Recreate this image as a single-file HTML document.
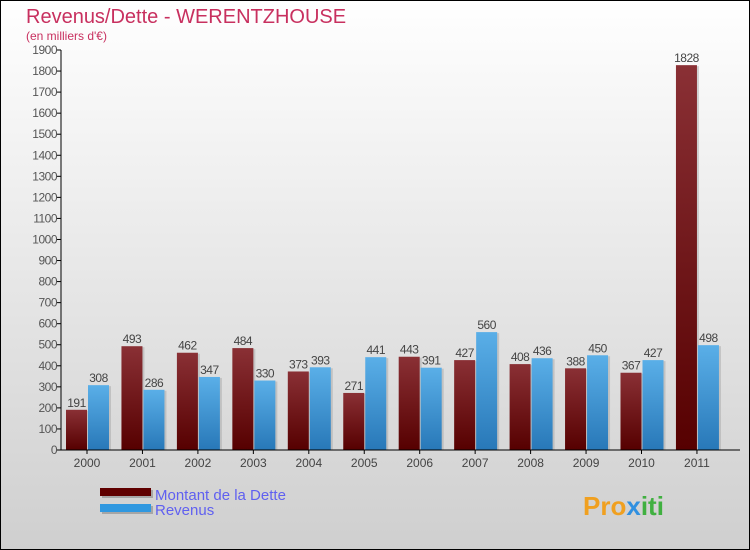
<!DOCTYPE html>
<html><head><meta charset="utf-8"><style>
body{margin:0}
svg{display:block;font-family:"Liberation Sans",sans-serif}
</style></head><body>
<svg id="c" width="750" height="550" xmlns="http://www.w3.org/2000/svg">
<defs>
<linearGradient id="bg" x1="0" y1="0" x2="0" y2="1"><stop offset="0" stop-color="#ffffff"/><stop offset="1" stop-color="#cfcfcf"/></linearGradient>
<linearGradient id="gd" x1="0" y1="0" x2="0" y2="1"><stop offset="0" stop-color="#8a3035"/><stop offset="1" stop-color="#560000"/></linearGradient>
<linearGradient id="gr" x1="0" y1="0" x2="0" y2="1"><stop offset="0" stop-color="#5aafe8"/><stop offset="1" stop-color="#2878b8"/></linearGradient>
</defs>
<rect x="0.5" y="0.5" width="749" height="549" fill="url(#bg)" stroke="#000"/>
<text x="26" y="23" font-size="20" fill="#c8305f">Revenus/Dette - WERENTZHOUSE</text>
<text x="26" y="40" font-size="12" fill="#c8305f">(en milliers d'€)</text>
<g id="plot"></g>
<g>
<rect x="102" y="490" width="51" height="8" fill="#888" opacity="0.6"/>
<rect x="100" y="488" width="51" height="8" fill="#600000"/>
<rect x="102" y="506" width="51" height="8" fill="#888" opacity="0.6"/>
<rect x="100" y="504" width="51" height="8" fill="#3098e0"/>
<text x="155" y="500" font-size="15" fill="#6060f0">Montant de la Dette</text>
<text x="155" y="515" font-size="15" fill="#6060f0">Revenus</text>
</g>
<text x="583" y="515" font-size="26" font-weight="bold" fill="#f0a020">Pro<tspan fill="#3090e0">x</tspan><tspan fill="#40b040">iti</tspan></text>
</svg>
<script>
const years=["2000","2001","2002","2003","2004","2005","2006","2007","2008","2009","2010","2011"];
const dette=[191,493,462,484,373,271,443,427,408,388,367,1828];
const revenus=[308,286,347,330,393,441,391,560,436,450,427,498];
const yTicks=[0,100,200,300,400,500,600,700,800,900,1000,1100,1200,1300,1400,1500,1600,1700,1800,1900];
const NS="http://www.w3.org/2000/svg";
const g=document.getElementById('plot');
const x0=61,y0=450,yTop=50,yMax=1900,step=55.45,first=87;
const ys=v=>y0-(y0-yTop)*v/yMax;
const xc=i=>first+i*step;
function mk(t,a,p){const e=document.createElementNS(NS,t);for(const k in a)e.setAttribute(k,a[k]);(p||g).appendChild(e);return e;}
yTicks.forEach(v=>{
 const l=mk('line',{x1:x0-4,x2:x0,y1:ys(v),y2:ys(v),stroke:'#000'});
 
 
 const t=mk('text',{x:x0-4,y:ys(v)+4,'font-size':12,fill:'#555','text-anchor':'end','letter-spacing':'-0.5'});
 t.textContent=v;
 
 
});
years.forEach((yr,i)=>{
 const c=xc(i);
 const tk=mk('line',{x1:c,x2:c,y1:y0,y2:y0+4,stroke:'#000'});
 
 
 const t=mk('text',{x:c,y:y0+17,'font-size':12,fill:'#444','text-anchor':'middle'});
 t.textContent=yr;
 
 
 [[dette[i],c-21,'url(#gd)','bar-dette-'+yr],[revenus[i],c+1,'url(#gr)','bar-revenus-'+yr]].forEach(([v,x,f,n])=>{
  const sh=mk('rect',{x:x+2,y:ys(v)+1,width:21,height:y0-ys(v)-1,fill:'#999',opacity:0.4});
  const r=mk('rect',{x:x,y:ys(v),width:21,height:y0-ys(v),fill:f});
  
  
  const lb=mk('text',{x:x+10.5,y:ys(v)-3,'font-size':12,fill:'#444','text-anchor':'middle','letter-spacing':'-0.5'});
  lb.textContent=v;
  
  
 });
});
const ax=mk('line',{x1:x0,x2:x0,y1:yTop,y2:y0,stroke:'#000'});


const bx=mk('line',{x1:x0,x2:740,y1:y0,y2:y0,stroke:'#000'});


</script>
</body></html>
